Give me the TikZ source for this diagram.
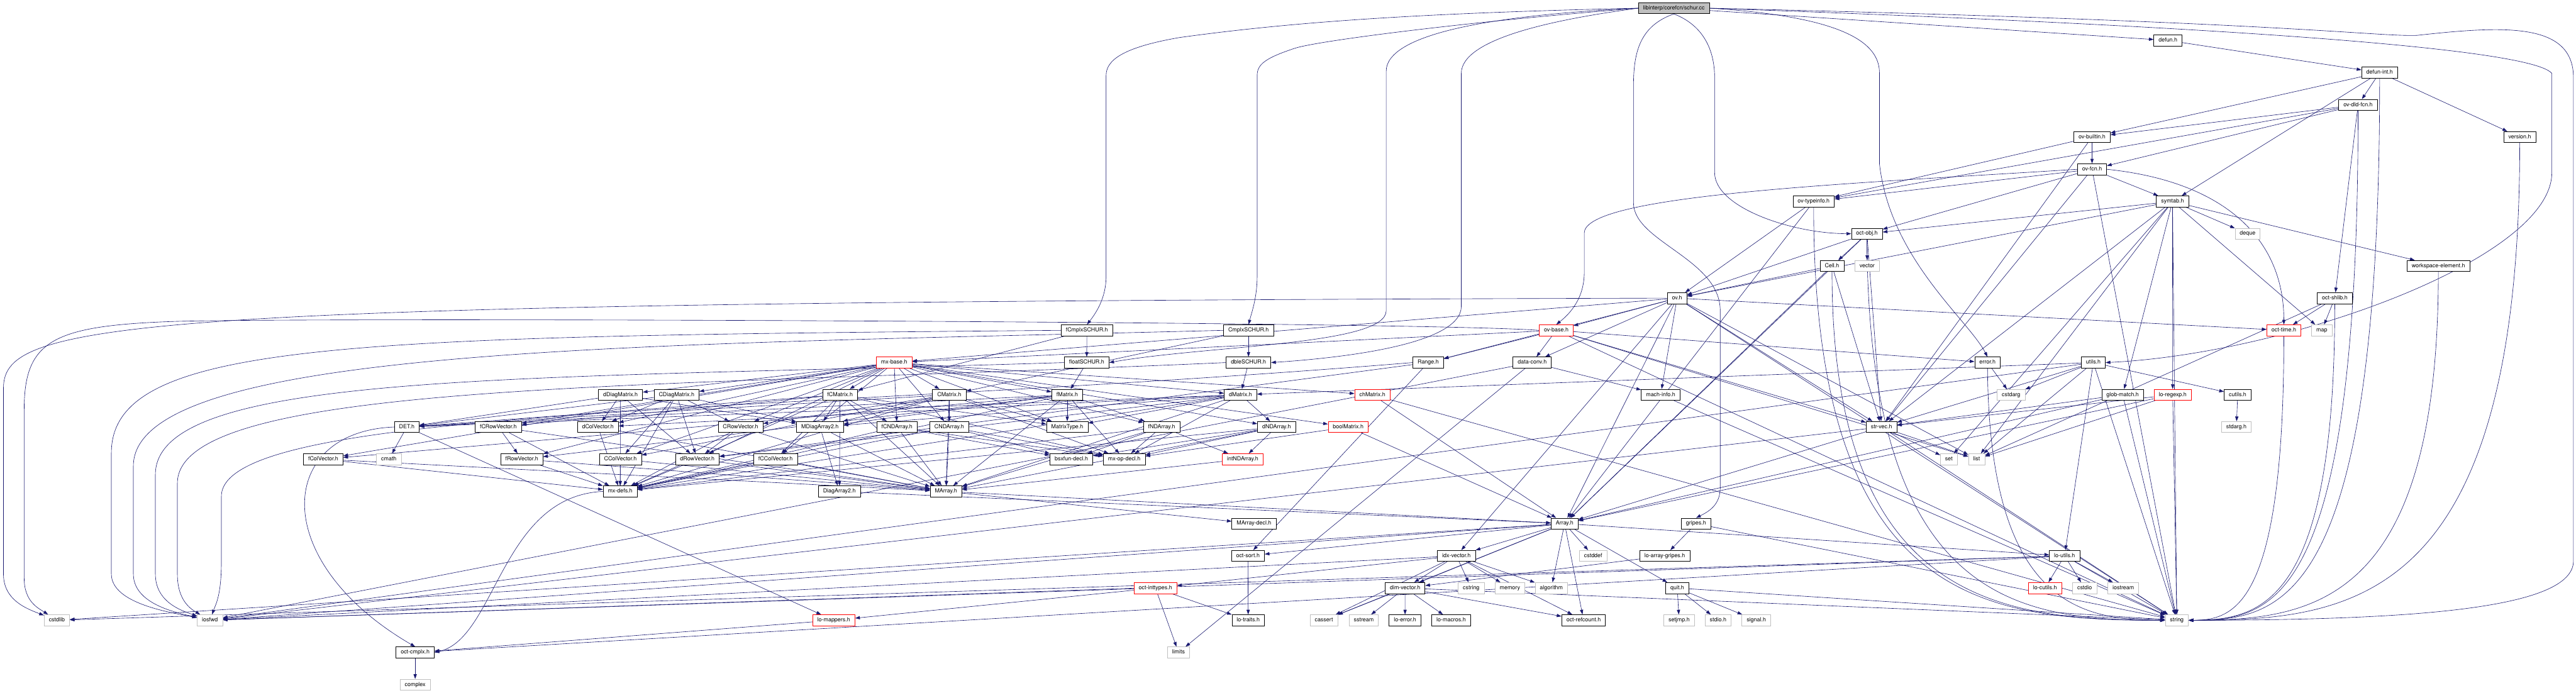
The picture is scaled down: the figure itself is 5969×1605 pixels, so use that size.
\documentclass[tikz,border=0pt]{standalone}
\usepackage{fontspec}
\setmainfont{TeX Gyre Heros}
\usetikzlibrary{arrows.meta}
\definecolor{edgec}{RGB}{25,25,112}
\definecolor{leafc}{RGB}{191,191,191}
\pgfdeclarelayer{bg}
\pgfsetlayers{bg,main}
\tikzset{
 nd/.style={draw=black, line width=1pt, fill=white, minimum height=25.6pt, inner xsep=11pt, inner ysep=0pt,
   font=\fontsize{13}{15}\selectfont, text height=9.5pt, text depth=2.8pt},
 lf/.style={nd, draw=leafc},
 rd/.style={nd, draw=red},
 rt/.style={nd, fill=leafc},
 e/.style={draw=edgec, line width=0.9pt, -{Triangle[length=11pt,width=7.5pt]}},
}
\begin{document}
\begin{tikzpicture}[x=1pt,y=-1pt]
\useasboundingbox (0,0) rectangle (5969,1605);
% row 0-10
\node[rt] (schur) at (3878.6,19) {libinterp/corefcn/schur.cc};
\node[nd] (defun) at (5023.5,93.7) {defun.h};
\node[nd] (defunint) at (5514,168.3) {defun-int.h};
\node[nd] (ovdld) at (5464,243) {ov-dld-fcn.h};
\node[nd] (ovbuiltin) at (4847.5,317.6) {ov-builtin.h};
\node[nd] (version) at (5838.6,317.6) {version.h};
\node[nd] (ovfcn) at (4847.6,392.3) {ov-fcn.h};
\node[nd] (ovtypeinfo) at (4202.5,466.9) {ov-typeinfo.h};
\node[nd] (symtab) at (5034,466.9) {symtab.h};
\node[nd] (octobj) at (4326,541.6) {oct-obj.h};
\node[lf] (deque) at (5208,541.6) {deque};
\node[nd] (Cell) at (4245,616.2) {Cell.h};
\node[lf] (vector) at (4326.5,616.2) {vector};
\node[nd] (wse) at (5650,616.2) {workspace-element.h};
\node[nd] (ov) at (3886,690.9) {ov.h};
\node[nd] (octshlib) at (5410,690.9) {oct-shlib.h};
\node[nd] (fCS) at (2518.5,765.5) {fCmplxSCHUR.h};
\node[nd] (CS) at (2893,765.5) {CmplxSCHUR.h};
\node[rd] (ovbase) at (3606,765.5) {ov-base.h};
\node[rd] (octtime) at (5292,765.5) {oct-time.h};
\node[lf] (map) at (5380,765.5) {map};
% row 11
\node[rd] (mxbase) at (2071.8,840.2) {mx-base.h};
\node[nd] (floatS) at (2518,840.2) {floatSCHUR.h};
\node[nd] (dbleS) at (2893,840.2) {dbleSCHUR.h};
\node[nd] (Range) at (3309.4,840.2) {Range.h};
\node[nd] (dataconv) at (3550.3,840.2) {data-conv.h};
\node[nd] (error) at (4605.3,840.2) {error.h};
\node[nd] (utils) at (4850.5,840.2) {utils.h};
% row 12
\node[nd] (dDiag) at (1437.8,914.8) {dDiagMatrix.h};
\node[nd] (CDiag) at (1567.7,914.8) {CDiagMatrix.h};
\node[nd] (fCMatrix) at (1946.5,914.8) {fCMatrix.h};
\node[nd] (CMatrix) at (2199.6,914.8) {CMatrix.h};
\node[nd] (fMatrix) at (2473,914.8) {fMatrix.h};
\node[nd] (dMatrix) at (2874.4,914.8) {dMatrix.h};
\node[rd] (chMatrix) at (3180,914.8) {chMatrix.h};
\node[nd] (mach) at (3848,914.8) {mach-info.h};
\node[lf] (cstdarg) at (4660,914.8) {cstdarg};
\node[nd] (glob) at (4918.5,914.8) {glob-match.h};
\node[rd] (regexp) at (5034.4,914.8) {lo-regexp.h};
\node[nd] (cutils) at (5185,914.8) {cutils.h};
% row 13
\node[nd] (DET) at (942.7,989.5) {DET.h};
\node[nd] (fCRow) at (1154.7,989.5) {fCRowVector.h};
\node[nd] (dCol) at (1385.5,989.5) {dColVector.h};
\node[nd] (CRow) at (1716,989.5) {CRowVector.h};
\node[nd] (MDiag) at (1900,989.5) {MDiagArray2.h};
\node[nd] (fCND) at (2078.4,989.5) {fCNDArray.h};
\node[nd] (CND) at (2199.6,989.5) {CNDArray.h};
\node[nd] (MType) at (2473,989.5) {MatrixType.h};
\node[nd] (fND) at (2691.7,989.5) {fNDArray.h};
\node[nd] (dND) at (2958,989.5) {dNDArray.h};
\node[rd] (boolM) at (3124,989.5) {boolMatrix.h};
\node[nd] (strvec) at (4359.7,989.5) {str-vec.h};
\node[lf] (stdarg) at (5182,989.5) {stdarg.h};
% row 14
\node[nd] (fCol) at (749,1064.1) {fColVector.h};
\node[lf] (cmath) at (901,1064.1) {cmath};
\node[nd] (fRow) at (1209,1064.1) {fRowVector.h};
\node[nd] (CCol) at (1437.6,1064.1) {CColVector.h};
\node[nd] (dRow) at (1615.8,1064.1) {dRowVector.h};
\node[nd] (fCCol) at (1797,1064.1) {fCColVector.h};
\node[nd] (bsx) at (2482.6,1064.1) {bsxfun-decl.h};
\node[nd] (mxop) at (2605,1064.1) {mx-op-decl.h};
\node[rd] (intND) at (2879.5,1064.1) {intNDArray.h};
\node[lf] (set) at (4515.9,1064.1) {set};
\node[lf] (list) at (4580,1064.1) {list};
% row 15-16
\node[nd] (mxdefs) at (1437,1138.8) {mx-defs.h};
\node[nd] (Diag2) at (1945,1138.8) {DiagArray2.h};
\node[nd] (MArray) at (2192,1138.8) {MArray.h};
\node[nd] (MArrayDecl) at (2905.6,1213.4) {MArray-decl.h};
\node[nd] (Array) at (3625.4,1213.4) {Array.h};
\node[nd] (gripes) at (3930,1213.4) {gripes.h};
% row 17
\node[nd] (octsort) at (2891.6,1288.1) {oct-sort.h};
\node[nd] (idx) at (3374.7,1288.1) {idx-vector.h};
\node[lf] (cstddef) at (3691.6,1288.1) {cstddef};
\node[nd] (lagripes) at (3857.5,1288.1) {lo-array-gripes.h};
\node[nd] (loutils) at (4783.9,1288.1) {lo-utils.h};
% row 18
\node[rd] (inttypes) at (2677.3,1362.7) {oct-inttypes.h};
\node[nd] (dimv) at (3255.8,1362.7) {dim-vector.h};
\node[lf] (cstring) at (3409,1362.7) {cstring};
\node[lf] (memory) at (3498.7,1362.7) {memory};
\node[lf] (algorithm) at (3594.7,1362.7) {algorithm};
\node[nd] (quit) at (3886.5,1362.7) {quit.h};
\node[rd] (locutils) at (4738.6,1362.7) {lo-cutils.h};
\node[lf] (cstdio) at (4830.4,1362.7) {cstdio};
\node[lf] (iostream) at (4920,1362.7) {iostream};
% row 19
\node[lf] (cstdlib) at (131.7,1437.4) {cstdlib};
\node[lf] (iosfwd) at (486.3,1437.4) {iosfwd};
\node[rd] (mappers) at (1932,1437.4) {lo-mappers.h};
\node[nd] (traits) at (2892.3,1437.4) {lo-traits.h};
\node[lf] (cassert) at (3067.6,1437.4) {cassert};
\node[lf] (sstream) at (3160,1437.4) {sstream};
\node[nd] (loerror) at (3255.7,1437.4) {lo-error.h};
\node[nd] (lomacros) at (3362.6,1437.4) {lo-macros.h};
\node[nd] (refcount) at (3669.4,1437.4) {oct-refcount.h};
\node[lf] (setjmp) at (3890.7,1437.4) {setjmp.h};
\node[lf] (stdioh) at (3981,1437.4) {stdio.h};
\node[lf] (signal) at (4069.6,1437.4) {signal.h};
\node[lf] (string) at (5044,1437.4) {string};
% row 20-21
\node[nd] (cmplx) at (962,1512) {oct-cmplx.h};
\node[lf] (limits) at (2730.8,1512) {limits};
\node[lf] (complex) at (962,1586.7) {complex};

\begin{pgfonlayer}{bg}
\foreach \a/\b in {
 defun/defunint, defunint/ovbuiltin, defunint/ovdld, defunint/symtab, defunint/version,
 ovdld/ovbuiltin, ovdld/ovfcn, ovdld/ovtypeinfo, ovdld/octshlib,
 ovbuiltin/ovfcn, ovbuiltin/ovtypeinfo, ovbuiltin/strvec,
 ovfcn/ovtypeinfo, ovfcn/octobj, ovfcn/symtab, ovfcn/strvec, ovfcn/string,
 ovtypeinfo/ov, ovtypeinfo/Array,
 symtab/deque, symtab/map, symtab/wse, symtab/glob, symtab/regexp, symtab/list, symtab/set,
 symtab/octobj, symtab/ov, symtab/strvec, symtab/string,
 octobj/Cell, octobj/vector, octobj/ov, octobj/Array, octobj/strvec,
 Cell/ov, Cell/Array, Cell/strvec,
 octshlib/octtime, octshlib/map, octshlib/list,
 ov/ovbase, ov/mxbase, ov/Range, ov/dataconv, ov/mach, ov/idx, ov/strvec, ov/octtime, ov/list, ov/Array, ov/string,
 ovbase/mxbase, ovbase/Range, ovbase/dataconv, ovbase/strvec, ovbase/error, ovbase/list, ovbase/string,
 fCS/floatS, fCS/fCMatrix, CS/dbleS, CS/CMatrix, floatS/fMatrix, dbleS/dMatrix,
 mxbase/MType, mxbase/boolM, mxbase/chMatrix, mxbase/dMatrix, mxbase/CMatrix, mxbase/fMatrix, mxbase/fCMatrix,
 mxbase/dCol, mxbase/CCol, mxbase/fCol, mxbase/fCCol, mxbase/dRow, mxbase/CRow, mxbase/fRow, mxbase/fCRow,
 mxbase/dDiag, mxbase/CDiag, mxbase/dND, mxbase/CND, mxbase/fND, mxbase/fCND,
 Range/dRow, Range/octsort, dataconv/mach, dataconv/limits, dataconv/iosfwd,
 error/cstdarg, utils/cstdarg, utils/list, utils/strvec, utils/cutils, utils/loutils, utils/dMatrix, utils/iosfwd, utils/string,
 glob/strvec, glob/Array, glob/string, regexp/strvec, regexp/list, regexp/Array, regexp/string, cutils/stdarg,
 dDiag/dCol, dDiag/dRow, dDiag/MDiag, dDiag/DET, dDiag/mxdefs,
 CDiag/CCol, CDiag/CRow, CDiag/dRow, CDiag/dCol, CDiag/MDiag, CDiag/DET, CDiag/mxdefs,
 fCMatrix/fCND, fCMatrix/MType, fCMatrix/MArray, fCMatrix/MDiag, fCMatrix/DET, fCMatrix/mxdefs, fCMatrix/mxop,
 fCMatrix/fCRow, fCMatrix/fCCol, fCMatrix/Diag2,
 CMatrix/CND, CMatrix/MType, CMatrix/MArray, CMatrix/MDiag, CMatrix/DET, CMatrix/mxdefs, CMatrix/mxop, CMatrix/CRow, CMatrix/CCol,
 fMatrix/fND, fMatrix/MType, fMatrix/MArray, fMatrix/MDiag, fMatrix/DET, fMatrix/mxdefs, fMatrix/mxop, fMatrix/fRow, fMatrix/fCol,
 dMatrix/dND, dMatrix/MType, dMatrix/MArray, dMatrix/MDiag, dMatrix/DET, dMatrix/mxdefs, dMatrix/mxop, dMatrix/dRow, dMatrix/dCol,
 chMatrix/Array, chMatrix/string, boolM/Array, boolM/mxop,
 DET/cmath, DET/mappers,
 fCRow/fRow, fCRow/MArray, fCRow/mxdefs, dCol/MArray, dCol/mxdefs, CRow/dRow, CRow/MArray, CRow/mxdefs,
 MDiag/Diag2, MDiag/MArray,
 fCND/MArray, fCND/mxop, fCND/bsx, fCND/mxdefs, CND/MArray, CND/mxop, CND/bsx, CND/mxdefs,
 fND/MArray, fND/intND, fND/mxop, fND/bsx, fND/mxdefs, dND/MArray, dND/intND, dND/mxop, dND/bsx, dND/mxdefs,
 fCol/MArray, fCol/mxdefs, fRow/MArray, fRow/mxdefs, CCol/MArray, CCol/mxdefs, dRow/MArray, dRow/mxdefs,
 fCCol/MArray, fCCol/mxdefs, intND/MArray,
 Diag2/Array, MArray/Array, MArray/MArrayDecl,
 Array/idx, Array/dimv, Array/cstddef, Array/algorithm, Array/refcount, Array/quit, Array/cassert, Array/octsort,
 Array/loutils, Array/iosfwd, Array/cstdlib,
 gripes/lagripes, gripes/string,
 idx/dimv, idx/cstring, idx/memory, idx/algorithm, idx/cassert, idx/refcount, idx/inttypes, idx/iosfwd,
 octsort/traits, lagripes/dimv,
 loutils/locutils, loutils/cstdio, loutils/iostream, loutils/cmplx, loutils/cstdlib, loutils/iosfwd, loutils/string,
 inttypes/traits, inttypes/limits, inttypes/mappers, inttypes/iosfwd,
 dimv/cassert, dimv/sstream, dimv/loerror, dimv/lomacros, dimv/refcount, dimv/string,
 quit/setjmp, quit/stdioh, quit/signal, quit/string,
 mappers/cmplx, cmplx/complex,
 strvec/set, strvec/list, strvec/Array, strvec/iosfwd, strvec/string, mach/string}
 \draw[e] (\a) -- (\b);
% schur.cc edges
\draw[e] (schur.west) .. controls (3300,30) and (3000,50) .. (2733,87) .. controls (2600,110) and (2563,140) .. (2563,175) -- (2563,640) .. controls (2563,690) and (2540,725) .. (fCS.north);
\draw[e] (schur.west) .. controls (3400,50) and (3050,95) .. (3000,112) .. controls (2930,135) and (2913,150) .. (2913,175) -- (2913,640) .. controls (2913,690) and (2900,725) .. (CS.north);
\draw[e] (schur.west) .. controls (3450,35) and (3212,80) .. (3212,165) -- (3212,720) .. controls (3212,800) and (2800,800) .. (floatS.east);
\draw[e] (schur.west) .. controls (3600,45) and (3386,90) .. (3386,170) -- (3386,710) .. controls (3386,800) and (3100,830) .. (dbleS.east);
\draw[e] (schur) -- (defun);
\draw[e] (schur.east) .. controls (4300,40) and (4355,110) .. (4355,170) -- (4355,380) .. controls (4380,600) and (4560,740) .. (error.north);
\draw[e] (schur.south) .. controls (3950,60) and (3973,120) .. (3973,180) -- (3973,400) .. controls (3973,480) and (4150,541) .. (octobj.west);
\draw[e] (schur.south) .. controls (3800,60) and (3785,120) .. (3785,200) -- (3785,470) .. controls (3785,560) and (3986,600) .. (3986,720) -- (3986,1130) .. controls (3986,1170) and (3960,1185) .. (gripes.north);
\draw[e] (schur.east) .. controls (4700,45) and (5850,95) .. (5913,170) -- (5913,400) .. controls (5913,600) and (5300,820) .. (utils.east);
\draw[e] (schur.east) .. controls (5300,50) and (5500,85) .. (5600,82) .. controls (5800,60) and (5963,50) .. (5963,180) -- (5963,1300) .. controls (5963,1410) and (5600,1437) .. (string.east);
% other curved edges
\draw[e] (ovfcn.west) .. controls (4300,425) and (3671,450) .. (3671,540) -- (3671,630) .. controls (3671,690) and (3640,725) .. (ovbase.north);
\draw[e] (ovfcn.east) .. controls (5150,420) and (5292,550) .. (octtime.north);
\draw[e] (defunint.south) .. controls (5514,1400) and (5290,1437) .. (string.east);
\draw[e] (ovdld.south) .. controls (5464,1400) and (5270,1437) .. (string.east);
\draw[e] (version.south) .. controls (5838.6,1400) and (5450,1437) .. (string.east);
\draw[e] (wse.south) .. controls (5650,1400) and (5360,1437) .. (string.east);
\draw[e] (octshlib.south) .. controls (5410,1400) and (5240,1437) .. (string.east);
\draw[e] (octtime.south) .. controls (5292,1400) and (5180,1437) .. (string.east);
\draw[e] (ovtypeinfo.south) .. controls (4202.5,1400) and (4600,1437) .. (string.west);
\draw[e] (Cell.south) .. controls (4245,1400) and (4640,1437) .. (string.west);
\draw[e] (octobj.south) .. controls (4330,1400) and (4680,1437) .. (string.west);
\draw[e] (error.south) .. controls (4610,1400) and (4820,1437) .. (string.west);
% to cstdlib / iosfwd from above
\draw[e] (ov.west) .. controls (300,700) and (8,740) .. (8,900) -- (8,1330) .. controls (8,1390) and (60,1410) .. (cstdlib);
\draw[e] (ovbase.west) .. controls (3300,745) and (700,735) .. (400,745) .. controls (120,755) and (56,790) .. (56,950) -- (56,1340) .. controls (56,1395) and (90,1410) .. (cstdlib);
\draw[e] (fCS.west) .. controls (800,780) and (258,790) .. (258,1050) -- (258,1330) .. controls (258,1400) and (400,1420) .. (iosfwd);
\draw[e] (CS.west) .. controls (1500,800) and (309,800) .. (309,1080) -- (309,1330) .. controls (309,1400) and (410,1420) .. (iosfwd);
\draw[e] (floatS.west) .. controls (1200,880) and (360,860) .. (360,1100) -- (360,1330) .. controls (360,1395) and (420,1415) .. (iosfwd);
\draw[e] (dbleS.west) .. controls (1500,900) and (411,880) .. (411,1120) -- (411,1330) .. controls (411,1390) and (440,1410) .. (iosfwd);
\draw[e] (Range.west) .. controls (1800,960) and (513,940) .. (513,1150) -- (513,1300) .. controls (513,1380) and (500,1400) .. (iosfwd);
\draw[e] (DET.west) .. controls (640,1000) and (620,1300) .. (cmplx.north);
\draw[e] (mxdefs.west) .. controls (1160,1150) and (1150,1480) .. (cmplx.east);
\end{pgfonlayer}
\end{tikzpicture}
\end{document}
